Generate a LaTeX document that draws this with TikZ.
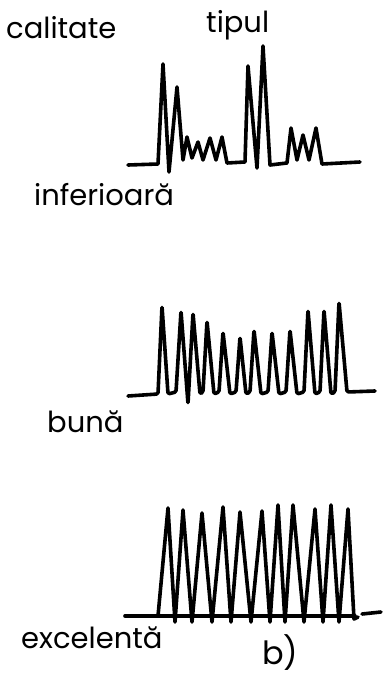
\documentclass[tikz,border=0pt]{standalone}
\usepackage{fontspec}
\setmainfont{Poppins}
\begin{document}
\begin{tikzpicture}[x=1pt,y=-1pt,
  wave/.style={line width=3.6pt,line join=round,line cap=round},
  lbl/.style={anchor=base west,inner sep=0pt,font=\fontsize{29}{29}\selectfont}]
\useasboundingbox[fill=white] (0,0) rectangle (383,677);
% labels
\node[lbl] (calitate) at (6,38) {calitate};
\node[lbl] (tipul) at (206,33) {tipul};
\node[lbl] (inf) at (34,205) {inferioară};
\node[lbl] (buna) at (47,432) {bună};
\node[lbl] (exc) at (21,648) {excelentă};
\node[lbl,font=\fontsize{32}{32}\selectfont] (b) at (262,664) {b)};
% top waveform
\draw[wave] (128,165) -- (158,164) -- (163,64) -- (169,172) -- (177,87) -- (183,160)
  -- (187,137) -- (192,158) -- (198,142) -- (203,160) -- (210,138) -- (216,160)
  -- (222,137) -- (227,163) -- (245,162) -- (248,66) -- (257,168) -- (263,46)
  -- (270,165) -- (287,163) -- (291,128) -- (297,160) -- (303,135) -- (309,160)
  -- (316,128) -- (322,164) -- (360,162);
% middle waveform
\draw[wave,rounded corners=1.5pt] (128,396) -- (158,394) -- (162,306) -- (168,394) -- (176,392)
  -- (181,311) -- (188,404) -- (193,313) -- (200,394) -- (203,392) -- (207,321)
  -- (214,394) -- (219,392) -- (223,332) -- (230,394) -- (236,392) -- (240,337)
  -- (246,394) -- (250,392) -- (254,330) -- (261,394) -- (268,392) -- (272,332)
  -- (279,394) -- (286,392) -- (290,330) -- (297,394) -- (304,392) -- (308,310)
  -- (315,394) -- (320,392) -- (324,310) -- (331,394) -- (335,392) -- (339,302)
  -- (347,392) -- (375,391);
% bottom waveform
\draw[wave] (125,616) -- (355,616);
\draw[wave] (158,616) -- (168,508) -- (175,622) -- (183,510) -- (192,622)
  -- (202,513) -- (212,622) -- (223,507) -- (231,622) -- (240,512) -- (251,622)
  -- (262,511) -- (270,622) -- (278,505) -- (285,622) -- (293,505) -- (304,622)
  -- (315,509) -- (323,622) -- (331,505) -- (339,622) -- (348,509) -- (354,619)
  -- (358,617);
\draw[wave] (362,614) -- (381,612);
\end{tikzpicture}
\end{document}
